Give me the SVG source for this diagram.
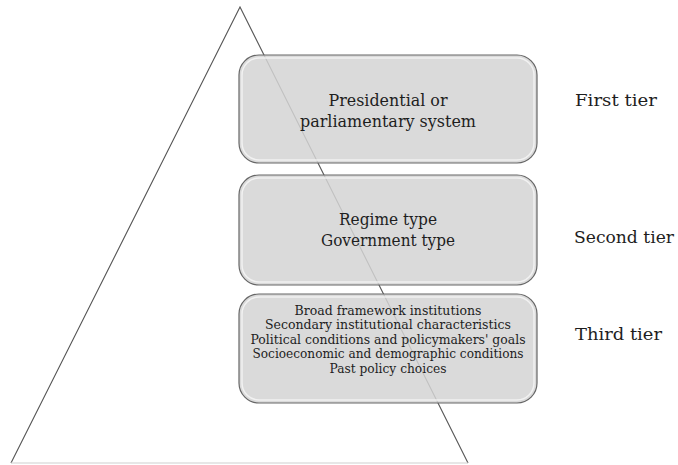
<svg xmlns="http://www.w3.org/2000/svg" width="678" height="465" viewBox="0 0 678 465">
  <style>
    .box { fill: #d3d3d3; fill-opacity: 0.85; stroke: #666666; stroke-width: 1.2; }
    .hl { fill: none; stroke: #f4f4f4; stroke-width: 1.5; opacity: 0.9; }
    .t { font-family: "DejaVu Serif", "Liberation Serif", serif; fill: #1e1e1e; text-anchor: middle; }
    .big { font-size: 16.5px; }
    .small { font-size: 12.5px; }
    .tier { font-family: "DejaVu Serif", "Liberation Serif", serif; fill: #1e1e1e; font-size: 17px; }
  </style>
  <rect width="678" height="465" fill="#ffffff"/>
  <g id="pyramid">
    <polyline points="11,463 240,7 468,463" fill="none" stroke="#555" stroke-width="1.1"/>
    <line x1="11" y1="463" x2="468" y2="463" stroke="#cfcfcf" stroke-width="1"/>
  </g>
  <g id="connectors"></g>
  <g id="tier1">
    <rect class="box" x="239" y="55" width="298" height="108" rx="20"/>
    <rect class="hl" x="242" y="58" width="292" height="102" rx="17"/>
    <text class="t big" x="388" y="106" textLength="119" lengthAdjust="spacingAndGlyphs">Presidential or</text>
    <text class="t big" x="388" y="127" textLength="176" lengthAdjust="spacingAndGlyphs">parliamentary system</text>
  </g>
  <g id="tier2">
    <rect class="box" x="239" y="175" width="298" height="110" rx="20"/>
    <rect class="hl" x="242" y="178" width="292" height="104" rx="17"/>
    <text class="t big" x="388" y="225" textLength="98" lengthAdjust="spacingAndGlyphs">Regime type</text>
    <text class="t big" x="388" y="246" textLength="134" lengthAdjust="spacingAndGlyphs">Government type</text>
  </g>
  <g id="tier3">
    <rect class="box" x="239" y="294" width="298" height="109" rx="20"/>
    <rect class="hl" x="242" y="297" width="292" height="103" rx="17"/>
    <text class="t small" x="388" y="315" textLength="187" lengthAdjust="spacingAndGlyphs">Broad framework institutions</text>
    <text class="t small" x="388" y="329" textLength="246" lengthAdjust="spacingAndGlyphs">Secondary institutional characteristics</text>
    <text class="t small" x="388" y="344" textLength="275" lengthAdjust="spacingAndGlyphs">Political conditions and policymakers' goals</text>
    <text class="t small" x="388" y="358" textLength="271" lengthAdjust="spacingAndGlyphs">Socioeconomic and demographic conditions</text>
    <text class="t small" x="388" y="373" textLength="117" lengthAdjust="spacingAndGlyphs">Past policy choices</text>
  </g>
  <g id="label1"><text class="tier" x="575" y="106" textLength="82" lengthAdjust="spacingAndGlyphs">First tier</text></g>
  <g id="label2"><text class="tier" x="574" y="243" textLength="100" lengthAdjust="spacingAndGlyphs">Second tier</text></g>
  <g id="label3"><text class="tier" x="575" y="340" textLength="87" lengthAdjust="spacingAndGlyphs">Third tier</text></g>
</svg>
